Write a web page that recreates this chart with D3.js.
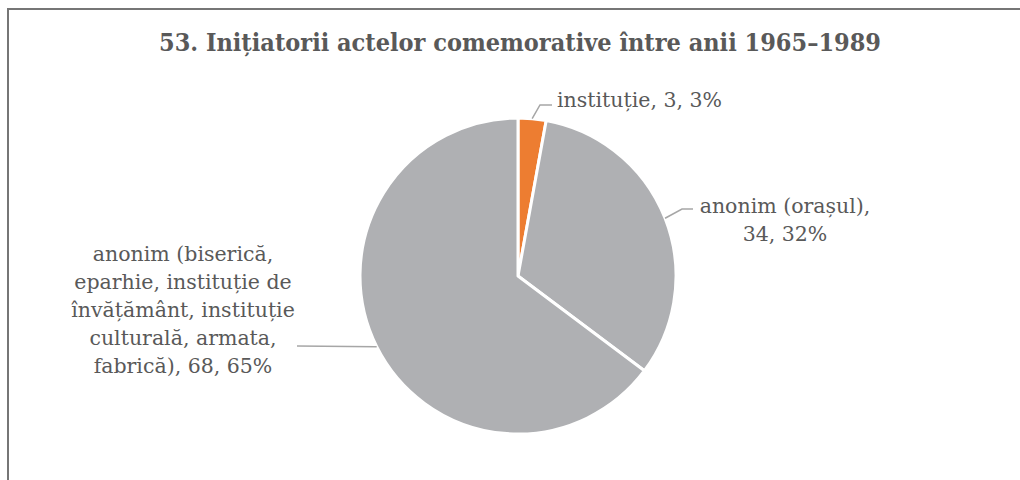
<!DOCTYPE html>
<html>
<head>
<meta charset="utf-8">
<script src="https://cdn.jsdelivr.net/npm/d3@7"></script>
<style>
  html, body { margin: 0; padding: 0; background: #fff; }
</style>
</head>
<body>
<div id="chart"></div>
<script>
const categories = [
  "instituție",
  "anonim (orașul)",
  "anonim (biserică, eparhie, instituție de învățământ, instituție culturală, armata, fabrică)"
];
const values = [3, 34, 68];
const percents = ["3%", "32%", "65%"];
const labelLines = [
  ["instituție, 3, 3%"],
  ["anonim (orașul),", "34, 32%"],
  ["anonim (biserică,", "eparhie, instituție de", "învățământ, instituție", "culturală, armata,", "fabrică), 68, 65%"]
];
const sliceColors = ["#ed7d31", "#afb0b3", "#afb0b3"];
const title = "53. Inițiatorii actelor comemorative între anii 1965–1989";

const width = 1020;
const height = 480;
const cx = 518, cy = 276, radius = 158;
const textColor = "#595959";
const serif = "'DejaVu Serif', 'Liberation Serif', serif";

const svg = d3.select("#chart").append("svg")
  .attr("width", width)
  .attr("height", height)
  .attr("viewBox", [0, 0, width, height]);

// frame, cut by the picture on the right and bottom
svg.append("rect")
  .attr("x", 8).attr("y", 9)
  .attr("width", width + 20).attr("height", height + 20)
  .attr("fill", "#fff")
  .attr("stroke", "#767676")
  .attr("stroke-width", 2);

svg.append("text")
  .attr("x", 520).attr("y", 51)
  .attr("text-anchor", "middle")
  .attr("font-family", "'DejaVu Serif Condensed', 'Liberation Serif', serif")
  .attr("font-weight", "bold")
  .attr("font-size", 25)
  .attr("fill", textColor)
  .text(title);

const data = categories.map((c, i) => ({ name: c, value: values[i], pct: percents[i], lines: labelLines[i], color: sliceColors[i] }));

const pie = d3.pie().sort(null).value(d => d.value);
const arcs = pie(data);
const arc = d3.arc().innerRadius(0).outerRadius(radius);

const g = svg.append("g").attr("transform", `translate(${cx},${cy})`);

g.selectAll("path")
  .data(arcs)
  .join("path")
  .attr("d", arc)
  .attr("fill", d => d.data.color)
  .attr("stroke", "#fff")
  .attr("stroke-width", 3)
  .attr("stroke-linejoin", "round");

// label placement (relative to the pie centre)
const labelLayout = [
  { x: 39, y: -169, anchor: "start", elbow: [[22, -171], [34, -171]] },
  { x: 267, y: -63, anchor: "middle", elbow: [[164, -67], [175, -67]] },
  { x: -335, y: -15, anchor: "middle", elbow: [[-221, 70]] }
];

arcs.forEach((a, i) => {
  const mid = (a.startAngle + a.endAngle) / 2;
  const p = [radius * Math.sin(mid), -radius * Math.cos(mid)];
  const lay = labelLayout[i];
  const pts = [p].concat(lay.elbow);
  g.append("path")
    .attr("d", d3.line()(pts))
    .attr("fill", "none")
    .attr("stroke", "#a6a6a6")
    .attr("stroke-width", 1.5);

  const t = g.append("text")
    .attr("font-family", serif)
    .attr("font-size", 20.5)
    .attr("fill", textColor)
    .attr("text-anchor", lay.anchor);
  a.data.lines.forEach((ln, j) => {
    t.append("tspan")
      .attr("x", lay.x)
      .attr("y", lay.y + j * 28)
      .text(ln);
  });
});
</script>
</body>
</html>
